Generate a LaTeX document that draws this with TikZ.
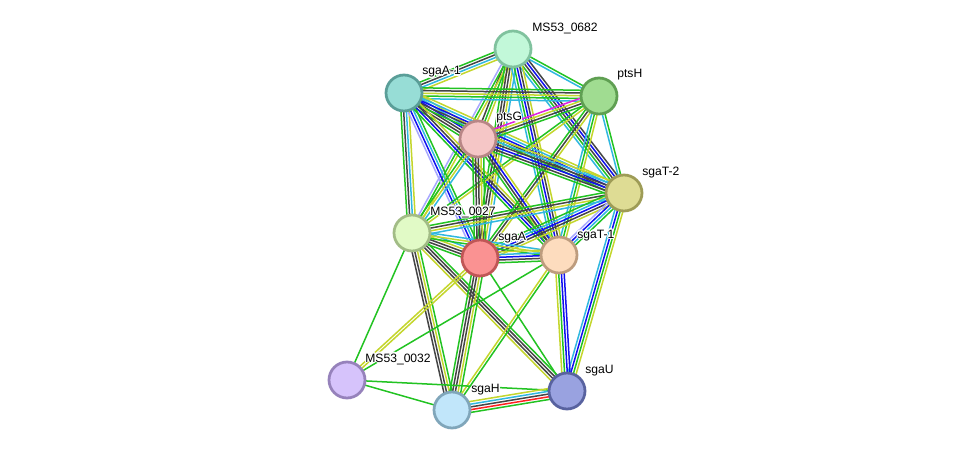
\documentclass[tikz,border=0pt]{standalone}
\usepackage{fontspec}
\setmainfont{Liberation Sans}
\usepackage[copies]{contour}
\contourlength{0.6pt}
\contournumber{16}
\usetikzlibrary{calc}
\pgfdeclarelayer{bg}
\pgfdeclarelayer{edges}
\pgfsetlayers{bg,edges,main}

% evidence channel colours
\definecolor{evNb}{HTML}{22C322}  % neighbourhood
\definecolor{evFu}{HTML}{FF2020}  % fusion
\definecolor{evBl}{HTML}{1010F0}  % co-occurrence
\definecolor{evCx}{HTML}{454545}  % co-expression
\definecolor{evEx}{HTML}{E020E0}  % experiments
\definecolor{evDb}{HTML}{30B8E0}  % databases
\definecolor{evTm}{HTML}{C4D62C}  % text mining
\definecolor{evHo}{HTML}{A8A8FF}  % homology

% protein fill / border colours
\definecolor{nA}{HTML}{C2F8D9}\definecolor{bA}{HTML}{80C29E}
\definecolor{nB}{HTML}{97DDD6}\definecolor{bB}{HTML}{5A9E98}
\definecolor{nC}{HTML}{A0DC91}\definecolor{bC}{HTML}{5F9F52}
\definecolor{nD}{HTML}{F5C6C6}\definecolor{bD}{HTML}{B88686}
\definecolor{nE}{HTML}{DEDC94}\definecolor{bE}{HTML}{9E9C56}
\definecolor{nF}{HTML}{E1FAC6}\definecolor{bF}{HTML}{A2BC86}
\definecolor{nG}{HTML}{FA9292}\definecolor{bG}{HTML}{C05656}
\definecolor{nH}{HTML}{FDDCBE}\definecolor{bH}{HTML}{BD9C7E}
\definecolor{nI}{HTML}{D6C3FB}\definecolor{bI}{HTML}{9682BB}
\definecolor{nJ}{HTML}{C1E6FA}\definecolor{bJ}{HTML}{80A6BA}
\definecolor{nK}{HTML}{99A2E0}\definecolor{bK}{HTML}{58629F}

\tikzset{
  prot/.style 2 args={circle, minimum size=0.72cm, inner sep=0pt,
    line width=0.055cm, fill=#1, draw=#2},
  lbl/.style={anchor=base west, inner sep=0pt,
    font=\fontsize{6.9}{8}\selectfont, text=black},
  evline/.style={line width=0.03cm},
}

% protein name with a white halo
\newcommand\haloname[1]{\contour{white}{#1}}

% one connector made of parallel evidence lines
\newcommand\evedge[3]{%
  \foreach \c [count=\i] in {#3} {\xdef\evcount{\i}}%
  \foreach \c [count=\i] in {#3} {%
    \pgfmathsetmacro\off{(\i-(\evcount+1)/2)*1.55}%
    \draw[evline, draw=\c]
      ($(#1.center)!\off pt!90:(#2.center)$) --
      ($(#2.center)!\off pt!-90:(#1.center)$);
  }%
}

\begin{document}
\begin{tikzpicture}[x=0.02cm, y=-0.02cm]
\begin{pgfonlayer}{bg}
  \fill[white] (0,0) rectangle (975,456);
\end{pgfonlayer}
\useasboundingbox (0,0) rectangle (975,456);

% proteins
\node[prot={nA}{bA}] (a) at (513,49) {};
\node[prot={nB}{bB}] (b) at (404,93) {};
\node[prot={nC}{bC}] (c) at (599,96) {};
\node[prot={nD}{bD}] (d) at (478,139) {};
\node[prot={nE}{bE}] (e) at (624,193) {};
\node[prot={nF}{bF}] (f) at (412,233) {};
\node[prot={nG}{bG}] (g) at (480,258) {};
\node[prot={nH}{bH}] (h) at (559,255) {};
\node[prot={nI}{bI}] (i) at (347,380) {};
\node[prot={nJ}{bJ}] (j) at (452,410) {};
\node[prot={nK}{bK}] (k) at (567,391) {};

% labels
\node[lbl] (la) at ($(a)+(19,-17)$) {\haloname{MS53\_0682}};
\node[lbl] (lb) at ($(b)+(18,-18)$) {\haloname{sgaA-1}};
\node[lbl] (lc) at ($(c)+(18,-18)$) {\haloname{ptsH}};
\node[lbl] (ld) at ($(d)+(18,-18)$) {\haloname{ptsG}};
\node[lbl] (le) at ($(e)+(18,-17)$) {\haloname{sgaT-2}};
\node[lbl] (lf) at ($(f)+(18,-18)$) {\haloname{MS53\_0027}};
\node[lbl] (lg) at ($(g)+(18,-17)$) {\haloname{sgaA}};
\node[lbl] (lh) at ($(h)+(18,-17)$) {\haloname{sgaT-1}};
\node[lbl] (li) at ($(i)+(18,-18)$) {\haloname{MS53\_0032}};
\node[lbl] (lj) at ($(j)+(19,-17)$) {\haloname{sgaH}};
\node[lbl] (lk) at ($(k)+(18,-17)$) {\haloname{sgaU}};

% interactions
\begin{pgfonlayer}{edges}
\evedge{a}{b}{evNb,evCx,evDb,evTm}
\evedge{a}{c}{evDb,evNb}
\evedge{a}{d}{evCx,evNb,evTm}
\evedge{a}{e}{evDb,evNb,evCx,evBl,evCx}
\evedge{a}{f}{evHo,evNb,evTm}
\evedge{a}{g}{evNb,evCx,evCx,evTm,evDb}
\evedge{a}{h}{evDb,evNb,evBl,evCx,evTm}
\evedge{b}{c}{evDb,evNb,evTm,evCx,evNb}
\evedge{b}{d}{evNb,evCx,evCx,evBl,evDb,evTm}
\evedge{b}{e}{evNb,evCx,evBl,evDb,evTm}
\evedge{b}{f}{evNb,evCx,evDb,evTm}
\evedge{b}{g}{evHo,evBl,evDb,evNb}
\evedge{b}{h}{evNb,evBl,evCx,evTm}
\evedge{c}{d}{evEx,evTm,evCx,evNb}
\evedge{c}{e}{evDb,evNb}
\evedge{c}{f}{evNb,evTm}
\evedge{c}{g}{evNb,evCx,evTm}
\evedge{c}{h}{evDb,evNb,evTm}
\evedge{d}{e}{evNb,evCx,evBl,evCx,evDb,evTm}
\evedge{d}{f}{evNb,evTm,evDb}
\evedge{d}{g}{evNb,evCx,evCx,evTm,evNb}
\evedge{d}{h}{evNb,evCx,evBl,evTm}
\evedge{e}{f}{evNb,evCx,evTm,evDb}
\evedge{e}{g}{evNb,evDb,evBl,evCx,evTm}
\evedge{e}{h}{evHo,evBl,evDb,evNb}
\evedge{e}{k}{evDb,evBl,evNb,evTm}
\evedge{f}{g}{evNb,evCx,evCx,evTm,evDb}
\evedge{f}{h}{evNb,evTm,evDb}
\evedge{f}{i}{evNb}
\evedge{f}{j}{evCx,evCx,evTm,evNb}
\evedge{f}{k}{evTm,evCx,evCx,evNb}
\evedge{g}{h}{evNb,evCx,evBl,evDb,evTm}
\evedge{g}{i}{evTm,evTm}
\evedge{g}{j}{evNb,evCx,evCx,evTm,evNb}
\evedge{g}{k}{evNb}
\evedge{h}{i}{evNb}
\evedge{h}{j}{evTm,evNb}
\evedge{h}{k}{evTm,evNb,evBl,evBl}
\evedge{i}{j}{evNb}
\evedge{i}{k}{evNb}
\evedge{j}{k}{evNb,evFu,evCx,evDb,evTm}
\end{pgfonlayer}
\end{tikzpicture}
\end{document}
